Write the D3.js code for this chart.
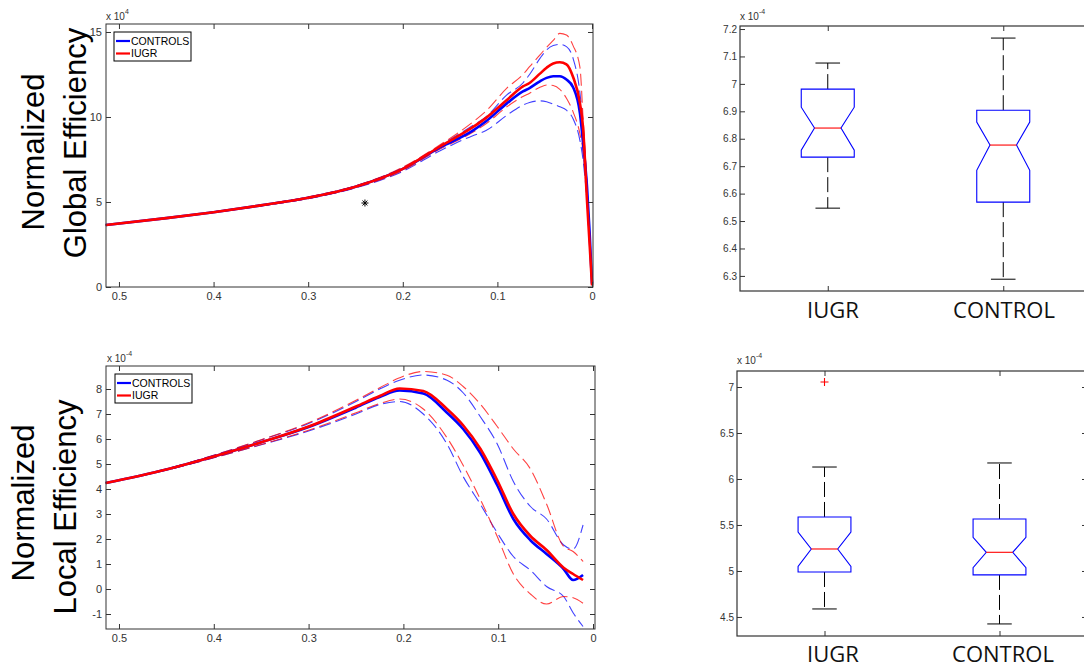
<!DOCTYPE html>
<html>
<head>
<meta charset="utf-8">
<script src="https://cdn.jsdelivr.net/npm/d3@7"></script>
<style>
    body { margin: 0; background: #fff; }
    svg { display: block; }
</style>
</head>
<body>
<div id="fig"></div>
<script>
const width = 1084,
    height = 671;

// ---- line plots (x reversed, values x 10^-4) ----
const xTicks = [0.5, 0.4, 0.3, 0.2, 0.1, 0];
const topYTicks = [0, 5, 10, 15];
const botYTicks = [-1, 0, 1, 2, 3, 4, 5, 6, 7, 8];

const topX = [0.514, 0.45, 0.4, 0.35, 0.3, 0.25, 0.2, 0.161, 0.126, 0.112, 0.09, 0.073, 0.066, 0.055, 0.048, 0.041, 0.034, 0.027, 0.02, 0.0127, 0.0095, 0.0053, 0.0025, 0];
const topCtrl   = [3.65, 4.05, 4.4, 4.8, 5.25, 5.9, 6.95, 8.2, 9.2, 9.75, 10.8, 11.5, 11.7, 12.1, 12.3, 12.4, 12.4, 12.2, 11.75, 10.2, 8.5, 5.9, 3.2, 0.2];
const topIugr   = [3.65, 4.05, 4.4, 4.8, 5.25, 5.9, 6.95, 8.25, 9.4, 9.95, 11.0, 11.8, 12.0, 12.55, 12.9, 13.15, 13.22, 13.1, 12.35, 10.8, 9.4, 5.1, 2.5, 0.1];
const topCtrlUp = [3.65, 4.05, 4.42, 4.82, 5.28, 5.93, 7.0, 8.3, 9.5, 10.0, 11.3, 12.0, 12.5, 13.45, 13.95, 14.2, 14.27, 14.14, 13.45, 11.4, 9.6, 5.9, 3.0, 0.2];
const topCtrlLo = [3.65, 4.05, 4.38, 4.77, 5.2, 5.83, 6.8, 8.0, 8.9, 9.2, 10.1, 10.7, 10.85, 10.95, 10.9, 10.76, 10.6, 10.4, 9.9, 8.6, 7.5, 5.0, 2.5, 0.1];
const topIugrUp = [3.65, 4.05, 4.42, 4.83, 5.3, 5.95, 7.05, 8.35, 9.7, 10.35, 11.7, 12.5, 12.96, 13.65, 14.1, 14.5, 14.92, 14.82, 14.2, 12.9, 10.0, 6.0, 3.0, 0.2];
const topIugrLo = [3.65, 4.05, 4.38, 4.77, 5.2, 5.85, 6.85, 8.1, 9.1, 9.6, 10.6, 11.2, 11.4, 11.75, 11.88, 11.85, 11.63, 11.1, 10.3, 9.0, 8.0, 5.0, 2.5, 0.1];
const starMark = [0.24, 4.94];

const botX = [0.514, 0.45, 0.4, 0.35, 0.3, 0.25, 0.225, 0.204, 0.179, 0.154, 0.137, 0.119, 0.101, 0.084, 0.066, 0.049, 0.031, 0.021, 0.0105];
const botIugr   = [4.24, 4.78, 5.3, 5.87, 6.5, 7.3, 7.72, 8.02, 7.92, 7.2, 6.55, 5.62, 4.35, 3.0, 2.12, 1.56, 0.85, 0.6, 0.36];
const botCtrl   = [4.24, 4.78, 5.3, 5.87, 6.48, 7.26, 7.68, 7.94, 7.82, 7.05, 6.4, 5.45, 4.15, 2.8, 1.95, 1.4, 0.8, 0.36, 0.56];
const botIugrUp = [4.24, 4.8, 5.35, 5.97, 6.65, 7.55, 8.05, 8.45, 8.7, 8.55, 8.1, 7.4, 6.5, 5.6, 4.8, 3.4, 1.7, 1.5, 1.1];
const botCtrlUp = [4.24, 4.8, 5.35, 5.96, 6.62, 7.5, 8.0, 8.35, 8.56, 8.35, 7.85, 6.9, 5.8, 4.3, 3.3, 2.8, 1.76, 1.6, 2.56];
const botIugrLo = [4.24, 4.76, 5.25, 5.78, 6.35, 7.05, 7.42, 7.6, 7.2, 6.05, 4.95, 3.6, 2.1, 0.6, -0.2, -0.6, -0.3, -0.35, -0.57];
const botCtrlLo = [4.24, 4.76, 5.25, 5.77, 6.32, 7.0, 7.38, 7.5, 7.0, 5.8, 4.5, 3.4, 2.25, 1.3, 0.75, 0.1, -0.3, -0.95, -1.5];

// ---- box plots: [lower whisker, Q1, notch low, median, notch high, Q3, upper whisker] ----
const groups = ["IUGR", "CONTROL"];
const geStats = [
    [6.547, 6.733, 6.758, 6.839, 6.915, 6.981, 7.076],
    [6.288, 6.569, 6.685, 6.777, 6.861, 6.904, 7.167]
];
const leStats = [
    [4.587, 4.989, 5.05, 5.239, 5.424, 5.587, 6.130],
    [4.424, 4.957, 5.036, 5.203, 5.366, 5.565, 6.174]
];
const geOutliers = [[], []];
const leOutliers = [[7.054], []];
const geTicks = [6.3, 6.4, 6.5, 6.6, 6.7, 6.8, 6.9, 7, 7.1, 7.2];
const leTicks = [4.5, 5, 5.5, 6, 6.5, 7];

const axisColor = "#333";
const tickFont = "'Liberation Sans', Arial, Helvetica, sans-serif";

const svg = d3
    .select("#fig")
    .append("svg")
    .attr("width", width)
    .attr("height", height)
    .style("background", "#fff");

function styleAxis(g, size) {
    g.select(".domain").remove();
    g.selectAll("line").attr("stroke", axisColor);
    g.selectAll("text")
        .attr("fill", axisColor)
        .attr("font-size", size)
        .attr("font-family", tickFont);
}

function exponent(x, y, sup) {
    const t = svg.append("text")
        .attr("x", x)
        .attr("y", y)
        .attr("font-family", tickFont)
        .attr("font-size", 10)
        .attr("fill", axisColor)
        .text("x 10");
    t.append("tspan").attr("dy", -6).attr("font-size", 7).text(sup);
}

function yTitle(lines, xs, cy) {
    lines.forEach((s, i) => {
        svg.append("text")
            .attr("transform", "translate(" + xs[i] + "," + cy[i] + ") rotate(-90)")
            .attr("text-anchor", "middle")
            .attr("font-family", tickFont)
            .attr("font-size", 31)
            .attr("fill", "#000")
            .text(s);
    });
}

function linePanel(p) {
    const x = d3.scaleLinear().domain([0.5137, 0]).range([p.left, p.zero]);
    const y = d3.scaleLinear().domain(p.yDomain).range([p.bottom, p.top]);
    const g = svg.append("g");

    // curves
    const line = d3.line()
        .x((d, i) => x(p.xs[i]))
        .y((d) => y(d))
        .curve(d3.curveMonotoneX);

    p.series.forEach((s) => {
        g.append("path")
            .datum(s.values)
            .attr("d", line)
            .attr("fill", "none")
            .attr("stroke", s.color)
            .attr("stroke-width", s.dashed ? 1.1 : 2.6)
            .attr("stroke-opacity", s.dashed ? 0.75 : 1)
            .attr("stroke-dasharray", s.dashed ? "12,5" : null);
    });

    // frame
    g.append("rect")
        .attr("x", p.left)
        .attr("y", p.top)
        .attr("width", p.right - p.left)
        .attr("height", p.bottom - p.top)
        .attr("fill", "none")
        .attr("stroke", axisColor);

    // axes (inward ticks on all sides)
    const ax = g.append("g")
        .attr("transform", "translate(0," + p.bottom + ")")
        .call(d3.axisBottom(x).tickValues(xTicks).tickSize(-5).tickPadding(5).tickFormat((d) => String(d)));
    styleAxis(ax, 11);
    const axT = g.append("g")
        .attr("transform", "translate(0," + p.top + ")")
        .call(d3.axisTop(x).tickValues(xTicks).tickSize(-5).tickFormat(""));
    styleAxis(axT, 11);
    const ay = g.append("g")
        .attr("transform", "translate(" + p.left + ",0)")
        .call(d3.axisLeft(y).tickValues(p.yTicks).tickSize(-5).tickPadding(4).tickFormat((d) => String(d)));
    styleAxis(ay, 11);
    const ayR = g.append("g")
        .attr("transform", "translate(" + p.right + ",0)")
        .call(d3.axisRight(y).tickValues(p.yTicks).tickSize(-5).tickFormat(""));
    styleAxis(ayR, 11);

    // legend
    const lg = g.append("g");
    lg.append("rect")
        .attr("x", p.legend[0])
        .attr("y", p.legend[1])
        .attr("width", 77)
        .attr("height", 29)
        .attr("fill", "#fff")
        .attr("stroke", "#000");
    [["CONTROLS", "#0000ff"], ["IUGR", "#ff0000"]].forEach((it, i) => {
        const ly = p.legend[1] + 9 + i * 12.5;
        lg.append("line")
            .attr("x1", p.legend[0] + 2)
            .attr("x2", p.legend[0] + 16)
            .attr("y1", ly)
            .attr("y2", ly)
            .attr("stroke", it[1])
            .attr("stroke-width", 2.2);
        lg.append("text")
            .attr("x", p.legend[0] + 17)
            .attr("y", ly + 3.8)
            .attr("font-family", tickFont)
            .attr("font-size", 10.5)
            .attr("fill", "#000")
            .text(it[0]);
    });

    if (p.star) {
        const sx = x(p.star[0]), sy = y(p.star[1]), r = 3.5;
        g.append("path")
            .attr("d",
                "M" + (sx - r) + "," + sy + "H" + (sx + r) +
                "M" + sx + "," + (sy - r) + "V" + (sy + r) +
                "M" + (sx - r * 0.7) + "," + (sy - r * 0.7) + "L" + (sx + r * 0.7) + "," + (sy + r * 0.7) +
                "M" + (sx - r * 0.7) + "," + (sy + r * 0.7) + "L" + (sx + r * 0.7) + "," + (sy - r * 0.7))
            .attr("stroke", "#000")
            .attr("stroke-width", 1);
    }
}

function boxPanel(p) {
    const x = d3.scaleLinear().domain([0.5, 2.5]).range([p.left, p.right]);
    const y = d3.scaleLinear().domain(p.yDomain).range([p.bottom, p.top]);
    const g = svg.append("g");
    const hw = 0.151, cap = 0.07;

    p.stats.forEach((s, i) => {
        const c = i + 1;
        const [lo, q1, nlo, med, nhi, q3, hi] = s;
        // whiskers
        [[q3, hi], [q1, lo]].forEach((w) => {
            g.append("line")
                .attr("x1", x(c)).attr("x2", x(c))
                .attr("y1", y(w[0])).attr("y2", y(w[1]))
                .attr("stroke", "#000")
                .attr("stroke-dasharray", "15,5");
            g.append("line")
                .attr("x1", x(c - cap)).attr("x2", x(c + cap))
                .attr("y1", y(w[1])).attr("y2", y(w[1]))
                .attr("stroke", "#000");
        });
        // notched box
        const pts = [
            [c - hw, q1], [c - hw, nlo], [c - hw / 2, med], [c - hw, nhi], [c - hw, q3],
            [c + hw, q3], [c + hw, nhi], [c + hw / 2, med], [c + hw, nlo], [c + hw, q1]
        ];
        g.append("path")
            .attr("d", d3.line().x((d) => x(d[0])).y((d) => y(d[1]))(pts) + "Z")
            .attr("fill", "#fff")
            .attr("stroke", "#0000ff")
            .attr("stroke-width", 1.1);
        g.append("line")
            .attr("x1", x(c - hw / 2)).attr("x2", x(c + hw / 2))
            .attr("y1", y(med)).attr("y2", y(med))
            .attr("stroke", "#ff0000")
            .attr("stroke-width", 1.1);
        // outliers
        p.outliers[i].forEach((v) => {
            const ox = x(c), oy = y(v), r = 4;
            g.append("path")
                .attr("d", "M" + (ox - r) + "," + oy + "H" + (ox + r) + "M" + ox + "," + (oy - r) + "V" + (oy + r))
                .attr("stroke", "#ff0000")
                .attr("stroke-width", 1.1);
        });
    });

    // frame
    g.append("rect")
        .attr("x", p.left)
        .attr("y", p.top)
        .attr("width", p.right - p.left)
        .attr("height", p.bottom - p.top)
        .attr("fill", "none")
        .attr("stroke", axisColor)
        .attr("stroke-width", 1.2);

    const ay = g.append("g")
        .attr("transform", "translate(" + p.left + ",0)")
        .call(d3.axisLeft(y).tickValues(p.yTicks).tickSize(-5).tickPadding(3).tickFormat((d) => String(d)));
    styleAxis(ay, 10);
    const ayR = g.append("g")
        .attr("transform", "translate(" + p.right + ",0)")
        .call(d3.axisRight(y).tickValues(p.yTicks).tickSize(-5).tickFormat(""));
    styleAxis(ayR, 10);
    const ax = g.append("g")
        .attr("transform", "translate(0," + p.bottom + ")")
        .call(d3.axisBottom(x).tickValues([1, 2]).tickSize(-5).tickFormat(""));
    styleAxis(ax, 10);
    const axT = g.append("g")
        .attr("transform", "translate(0," + p.top + ")")
        .call(d3.axisTop(x).tickValues([1, 2]).tickSize(-5).tickFormat(""));
    styleAxis(axT, 10);

    // group labels (added below the axes)
    groups.forEach((name, i) => {
        g.append("text")
            .attr("x", p.labelX[i])
            .attr("y", p.labelY)
            .attr("text-anchor", "middle")
            .attr("font-family", "'Open Sans', 'Liberation Sans', sans-serif")
            .attr("font-size", 22)
            .attr("fill", "#111")
            .text(name);
    });
}

// Global efficiency vs threshold
linePanel({
    left: 106, right: 593, zero: 592, top: 24, bottom: 287,
    yDomain: [0, 15.47], yTicks: topYTicks, xs: topX,
    legend: [114, 32], star: starMark,
    series: [
        { values: topCtrlUp, color: "#0000ff", dashed: true },
        { values: topCtrlLo, color: "#0000ff", dashed: true },
        { values: topIugrUp, color: "#ff0000", dashed: true },
        { values: topIugrLo, color: "#ff0000", dashed: true },
        { values: topCtrl, color: "#0000ff" },
        { values: topIugr, color: "#ff0000" }
    ]
});
exponent(106, 20, "4");

// Local efficiency vs threshold
linePanel({
    left: 106, right: 595, zero: 593, top: 366, bottom: 629,
    yDomain: [-1.6, 8.92], yTicks: botYTicks, xs: botX,
    legend: [115, 374],
    series: [
        { values: botCtrlUp, color: "#0000ff", dashed: true },
        { values: botCtrlLo, color: "#0000ff", dashed: true },
        { values: botIugrUp, color: "#ff0000", dashed: true },
        { values: botIugrLo, color: "#ff0000", dashed: true },
        { values: botCtrl, color: "#0000ff" },
        { values: botIugr, color: "#ff0000" }
    ]
});
exponent(107, 362, "-4");

boxPanel({
    left: 740, right: 1091, top: 26, bottom: 291,
    yDomain: [6.245, 7.211], yTicks: geTicks,
    stats: geStats, outliers: geOutliers,
    labelX: [833, 1004], labelY: 318
});
exponent(740, 20, "-4");

boxPanel({
    left: 737, right: 1087, top: 371, bottom: 636,
    yDomain: [4.293, 7.174], yTicks: leTicks,
    stats: leStats, outliers: leOutliers,
    labelX: [833, 1003], labelY: 662
});
exponent(737, 364, "-4");

yTitle(["Normalized", "Global Efficiency"], [44, 86], [152, 143]);
yTitle(["Normalized", "Local Efficiency"], [34, 76], [503, 507]);
</script>
</body>
</html>
